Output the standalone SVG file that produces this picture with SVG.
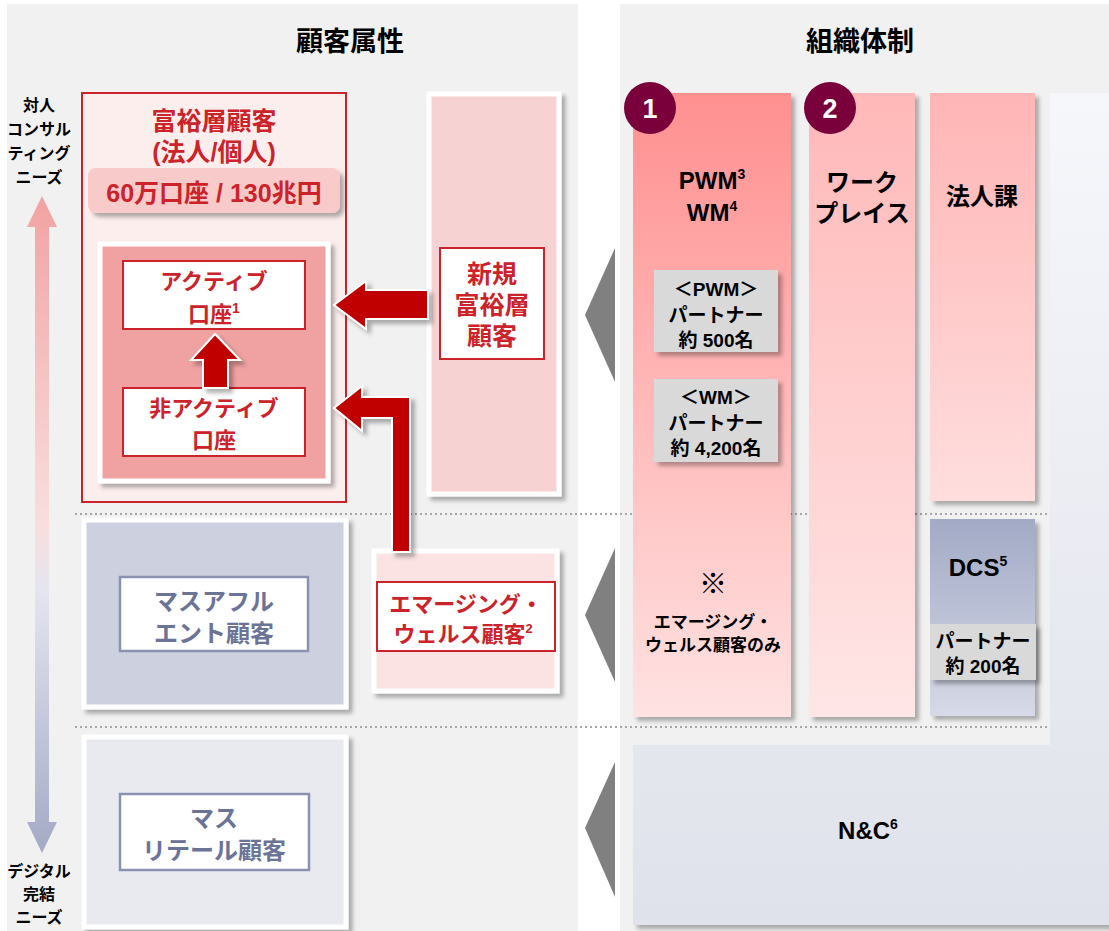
<svg xmlns="http://www.w3.org/2000/svg" width="1109" height="931" viewBox="0 0 1109 931">
<style>
text{font-family:"Liberation Sans","Noto Sans CJK JP",sans-serif;font-weight:bold;text-anchor:middle}
.ttl{font-size:27px;fill:#000}
.side{font-size:16px;fill:#000}
.red{fill:#cc2229;font-size:22px}
.big{font-size:25px}
.blu{fill:#6b7397;font-size:24px}
.blk{fill:#000;font-size:24px}
.sm{fill:#000;font-size:19px}
.xs{fill:#000;font-size:17px}
.whb{fill:#fff;stroke:#cc2229;stroke-width:2}
.wbb{fill:#fff;stroke:#8a92b2;stroke-width:2.5}
.card{stroke:#fff;stroke-width:5}
.gbox{fill:#d9d9d9}
.dot{stroke:#a6a6a6;stroke-width:2;stroke-dasharray:2 3}
.tri{fill:#808080}
.num{fill:#7a003c}
</style>
<defs>
<filter id="sh" x="-10%" y="-10%" width="130%" height="130%"><feDropShadow dx="4" dy="4" stdDeviation="2" flood-color="#000" flood-opacity="0.3"/></filter>
<linearGradient id="g1" x1="0" y1="0" x2="0" y2="1"><stop offset="0" stop-color="#ff9090"/><stop offset="1" stop-color="#ffe2e2"/></linearGradient>
<linearGradient id="g2" x1="0" y1="0" x2="0" y2="1"><stop offset="0" stop-color="#ffb8b8"/><stop offset="1" stop-color="#ffe6e6"/></linearGradient>
<linearGradient id="g3" x1="0" y1="0" x2="0" y2="1"><stop offset="0" stop-color="#ffb5b5"/><stop offset="1" stop-color="#ffdede"/></linearGradient>
<linearGradient id="g4" x1="0" y1="0" x2="0" y2="1"><stop offset="0" stop-color="#a2aac6"/><stop offset="1" stop-color="#d6d9e6"/></linearGradient>
<linearGradient id="g5" x1="0" y1="0" x2="0" y2="1"><stop offset="0" stop-color="#f6f7fb"/><stop offset="1" stop-color="#e0e2eb"/></linearGradient>
<linearGradient id="ga" x1="0" y1="195" x2="0" y2="853" gradientUnits="userSpaceOnUse"><stop offset="0" stop-color="#f2a2a2"/><stop offset="0.5" stop-color="#f9dede"/><stop offset="0.6" stop-color="#e4e5ef"/><stop offset="1" stop-color="#a4aac6"/></linearGradient>
</defs>

<!-- background panels -->
<rect x="7" y="4" width="571" height="927" fill="#f1f1f1"/>
<rect x="620" y="4" width="489" height="927" fill="#f1f1f1"/>
<text class="ttl" x="350" y="51">顧客属性</text>
<text class="ttl" x="860" y="51">組織体制</text>

<!-- dotted separators -->
<line class="dot" x1="75" y1="514" x2="1050" y2="514"/>
<line class="dot" x1="75" y1="727" x2="1050" y2="727"/>

<!-- vertical needs axis -->
<g id="axis">
<text class="side" x="39" y="111">対人</text>
<text class="side" x="39" y="135">コンサル</text>
<text class="side" x="39" y="159">ティング</text>
<text class="side" x="39" y="183">ニーズ</text>
<path d="M42 196 L57 227 L49 227 L49 822 L57 822 L42 853 L27 822 L35 822 L35 227 L27 227 Z" fill="url(#ga)"/>
<text class="side" x="39" y="877">デジタル</text>
<text class="side" x="39" y="900">完結</text>
<text class="side" x="39" y="923">ニーズ</text>
</g>

<!-- wealthy customers -->
<g id="wealthy">
<rect x="82" y="93" width="264" height="409" fill="#fdeeee" stroke="#cc2229" stroke-width="2"/>
<text class="red big" x="214" y="130">富裕層顧客</text>
<text class="red big" x="214" y="161">(法人/個人)</text>
<rect x="88" y="168" width="252" height="45" rx="8" fill="#f8caca" filter="url(#sh)"/>
<text class="red big" x="214" y="202">60万口座 / 130兆円</text>
<rect class="card" x="100" y="244" width="228" height="237" fill="#f0a2a2" filter="url(#sh)"/>
</g>
<g id="active">
<rect class="whb" x="123" y="261" width="182" height="68"/>
<text class="red" x="214" y="289">アクティブ</text>
<text class="red" x="214" y="322">口座<tspan font-size="14" dy="-9">1</tspan></text>
</g>
<g id="inactive">
<rect class="whb" x="123" y="388" width="182" height="68"/>
<text class="red" x="214" y="416">非アクティブ</text>
<text class="red" x="214" y="448">口座</text>
</g>

<!-- new wealthy -->
<g id="newwealthy">
<rect class="card" x="429" y="94" width="130" height="400" fill="#f7d2d2" filter="url(#sh)"/>
<rect class="whb" x="440" y="248" width="104" height="111"/>
<text class="red big" x="492" y="283">新規</text>
<text class="red big" x="492" y="314">富裕層</text>
<text class="red big" x="492" y="345">顧客</text>
</g>

<!-- mass affluent -->
<g id="massaffluent">
<rect class="card" x="84" y="520" width="262" height="187" fill="#cdd1df" filter="url(#sh)"/>
<rect class="wbb" x="120" y="577" width="188" height="74"/>
<text class="blu" x="214" y="610">マスアフル</text>
<text class="blu" x="214" y="642">エント顧客</text>
</g>

<!-- emerging wealth -->
<g id="emerging">
<rect class="card" x="374" y="551" width="183" height="140" fill="#fbe3e3" filter="url(#sh)"/>
<rect class="whb" x="377" y="582" width="178" height="69"/>
<text class="red" x="466" y="612" font-size="20">エマージング・</text>
<text class="red" x="463" y="642" font-size="20">ウェルス顧客<tspan font-size="13" dy="-9">2</tspan></text>
</g>

<!-- mass retail -->
<g id="massretail">
<rect class="card" x="84" y="737" width="262" height="190" fill="#e9eaf0" filter="url(#sh)"/>
<rect class="wbb" x="120" y="794" width="189" height="76"/>
<text class="blu" x="214" y="827">マス</text>
<text class="blu" x="214" y="859">リテール顧客</text>
</g>

<!-- connectors -->
<g id="connectors">
<path d="M334 305 L366 281 L366 290 L428 290 L428 319 L366 319 L366 329 Z" fill="#c00000" stroke="#fff" stroke-width="2" filter="url(#sh)"/>
<path d="M334 408 L362 386 L362 397 L410 397 L410 552 L392 552 L392 418 L362 418 L362 431 Z" fill="#c00000" stroke="#fff" stroke-width="2" filter="url(#sh)"/>
<path d="M215 334 L240 360 L228 360 L228 388 L203 388 L203 360 L191 360 Z" fill="#c00000" stroke="#fff" stroke-width="2" filter="url(#sh)"/>
<polygon class="tri" points="615,248 615,382 585,315"/>
<polygon class="tri" points="615,548 615,682 585,615"/>
<polygon class="tri" points="615,762 615,897 585,828"/>
</g>

<!-- right side: org structure -->
<g id="rightpanel">
<path d="M1050 93 L1109 93 L1109 925 L633 925 L633 745 L1050 745 Z" fill="url(#g5)" filter="url(#sh)"/>
</g>
<g id="nc">
<text class="blk" x="868" y="839">N&amp;C<tspan font-size="14" dy="-10">6</tspan></text>
</g>
<g id="pwm">
<rect x="633" y="93" width="158" height="624" fill="url(#g1)" filter="url(#sh)"/>
<circle class="num" cx="650" cy="108" r="26"/>
<text x="650" y="118" font-size="27" fill="#fff">1</text>
<text class="blk" x="712" y="189">PWM<tspan font-size="14" dy="-10">3</tspan></text>
<text class="blk" x="712" y="221">WM<tspan font-size="14" dy="-10">4</tspan></text>
<rect class="gbox" x="654" y="270" width="124" height="82" filter="url(#sh)"/>
<text class="sm" x="716" y="296">＜PWM＞</text>
<text class="sm" x="716" y="322">パートナー</text>
<text class="sm" x="716" y="347">約 500名</text>
<rect class="gbox" x="654" y="379" width="124" height="83" filter="url(#sh)"/>
<text class="sm" x="716" y="404">＜WM＞</text>
<text class="sm" x="716" y="430">パートナー</text>
<text class="sm" x="716" y="455">約 4,200名</text>
<text x="713" y="594" font-size="28" fill="#000">※</text>
<text class="xs" x="713" y="628">エマージング・</text>
<text class="xs" x="713" y="651">ウェルス顧客のみ</text>
</g>
<g id="workplace">
<rect x="809" y="93" width="106" height="624" fill="url(#g2)" filter="url(#sh)"/>
<circle class="num" cx="830" cy="108" r="26"/>
<text x="830" y="118" font-size="27" fill="#fff">2</text>
<text class="blk" x="862" y="191">ワーク</text>
<text class="blk" x="862" y="222">プレイス</text>
</g>
<g id="corporate">
<rect x="930" y="93" width="105" height="408" fill="url(#g3)" filter="url(#sh)"/>
<text class="blk" x="982" y="205">法人課</text>
</g>
<g id="dcs">
<rect x="930" y="519" width="105" height="197" fill="url(#g4)" filter="url(#sh)"/>
<text class="blk" x="978" y="576">DCS<tspan font-size="14" dy="-10">5</tspan></text>
<rect class="gbox" x="930" y="624" width="106" height="56" filter="url(#sh)"/>
<text class="sm" x="983" y="648">パートナー</text>
<text class="sm" x="983" y="673">約 200名</text>
</g>
</svg>
